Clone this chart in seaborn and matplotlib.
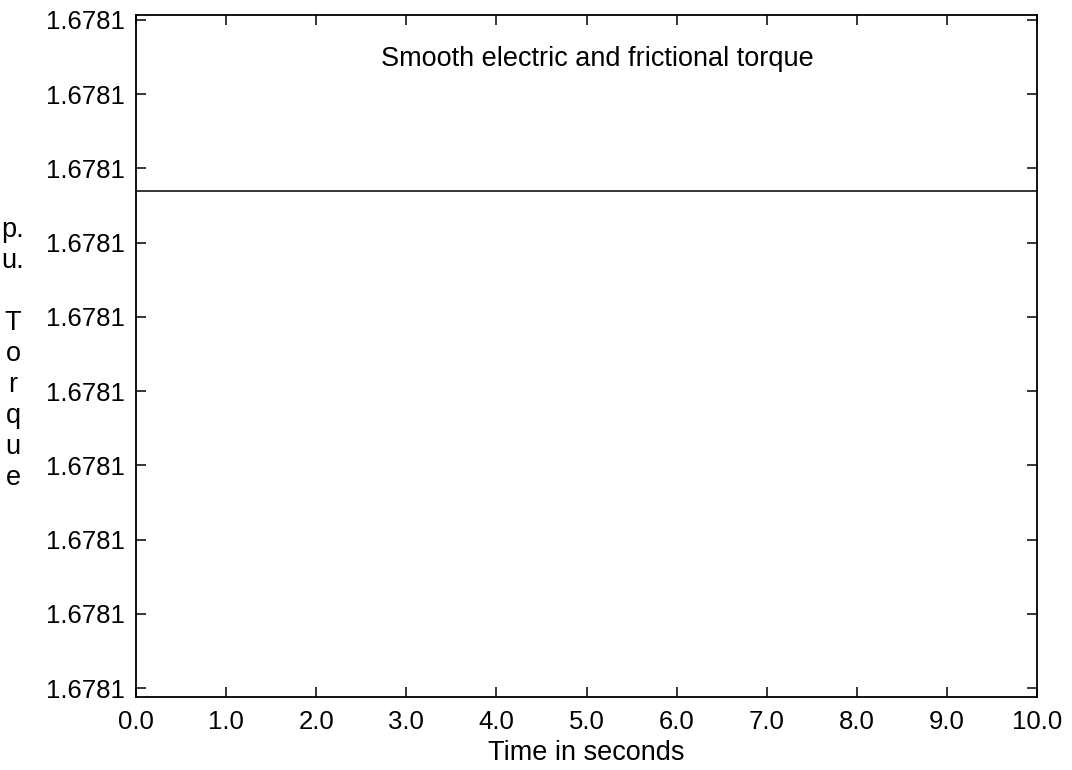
import numpy as np
import pandas as pd
import matplotlib
matplotlib.use('Agg')
import matplotlib.pyplot as plt
import seaborn as sns

# data: the torque stays flat over the whole run
time_s = [0.0, 10.0]
torque_pu = [1.6781000067, 1.6781000067]

x_ticks = [0.0, 1.0, 2.0, 3.0, 4.0, 5.0, 6.0, 7.0, 8.0, 9.0, 10.0]
x_tick_labels = ['0.0', '1.0', '2.0', '3.0', '4.0', '5.0', '6.0', '7.0', '8.0', '9.0', '10.0']
y_ticks = [1.678100000, 1.678100001, 1.678100002, 1.678100003, 1.678100004,
           1.678100005, 1.678100006, 1.678100007, 1.678100008, 1.678100009]
y_tick_labels = ['1.6781'] * len(y_ticks)

title_text = 'Smooth electric and frictional torque'
x_label = 'Time in seconds'
y_label = 'p.\nu.\n\nT\no\nr\nq\nu\ne'

sns.set_theme(style='ticks')
plt.rcParams['font.family'] = ['Liberation Sans', 'DejaVu Sans']
plt.rcParams['font.size'] = 18

df = pd.DataFrame({'time': time_s, 'torque': torque_pu})

fig = plt.figure(figsize=(10.72, 7.70), dpi=100)
ax = fig.add_axes([0.1269, 0.0948, 0.8405, 0.8857])

sns.lineplot(data=df, x='time', y='torque', color='black', linewidth=1.1, ax=ax)

ax.set_xlim(0, 10)
ax.set_ylim(1.6780999998790, 1.6781000090670)
ax.set_xticks(x_ticks)
ax.set_xticklabels(x_tick_labels)
ax.set_yticks(y_ticks)
ax.set_yticklabels(y_tick_labels)

ax.tick_params(axis='both', direction='in', length=7, width=1.1, colors='black',
               labelsize=18.5, top=True, right=True)
ax.tick_params(axis='y', pad=8)
ax.tick_params(axis='x', pad=9)
for s in ax.spines.values():
    s.set_visible(True)
    s.set_linewidth(1.3)
    s.set_color('black')

ax.set_xlabel(x_label, fontsize=19.5, color='black', labelpad=5)
ax.set_ylabel('')
ax.text(5.12, 1.67810000847, title_text, ha='center', va='center', fontsize=19.5, color='black')
fig.text(13 / 1072, 1 - 354 / 770, y_label, ha='center', va='center', fontsize=19.5,
         linespacing=1.25, color='black')

fig.savefig('out.png', dpi=100, facecolor='white')
